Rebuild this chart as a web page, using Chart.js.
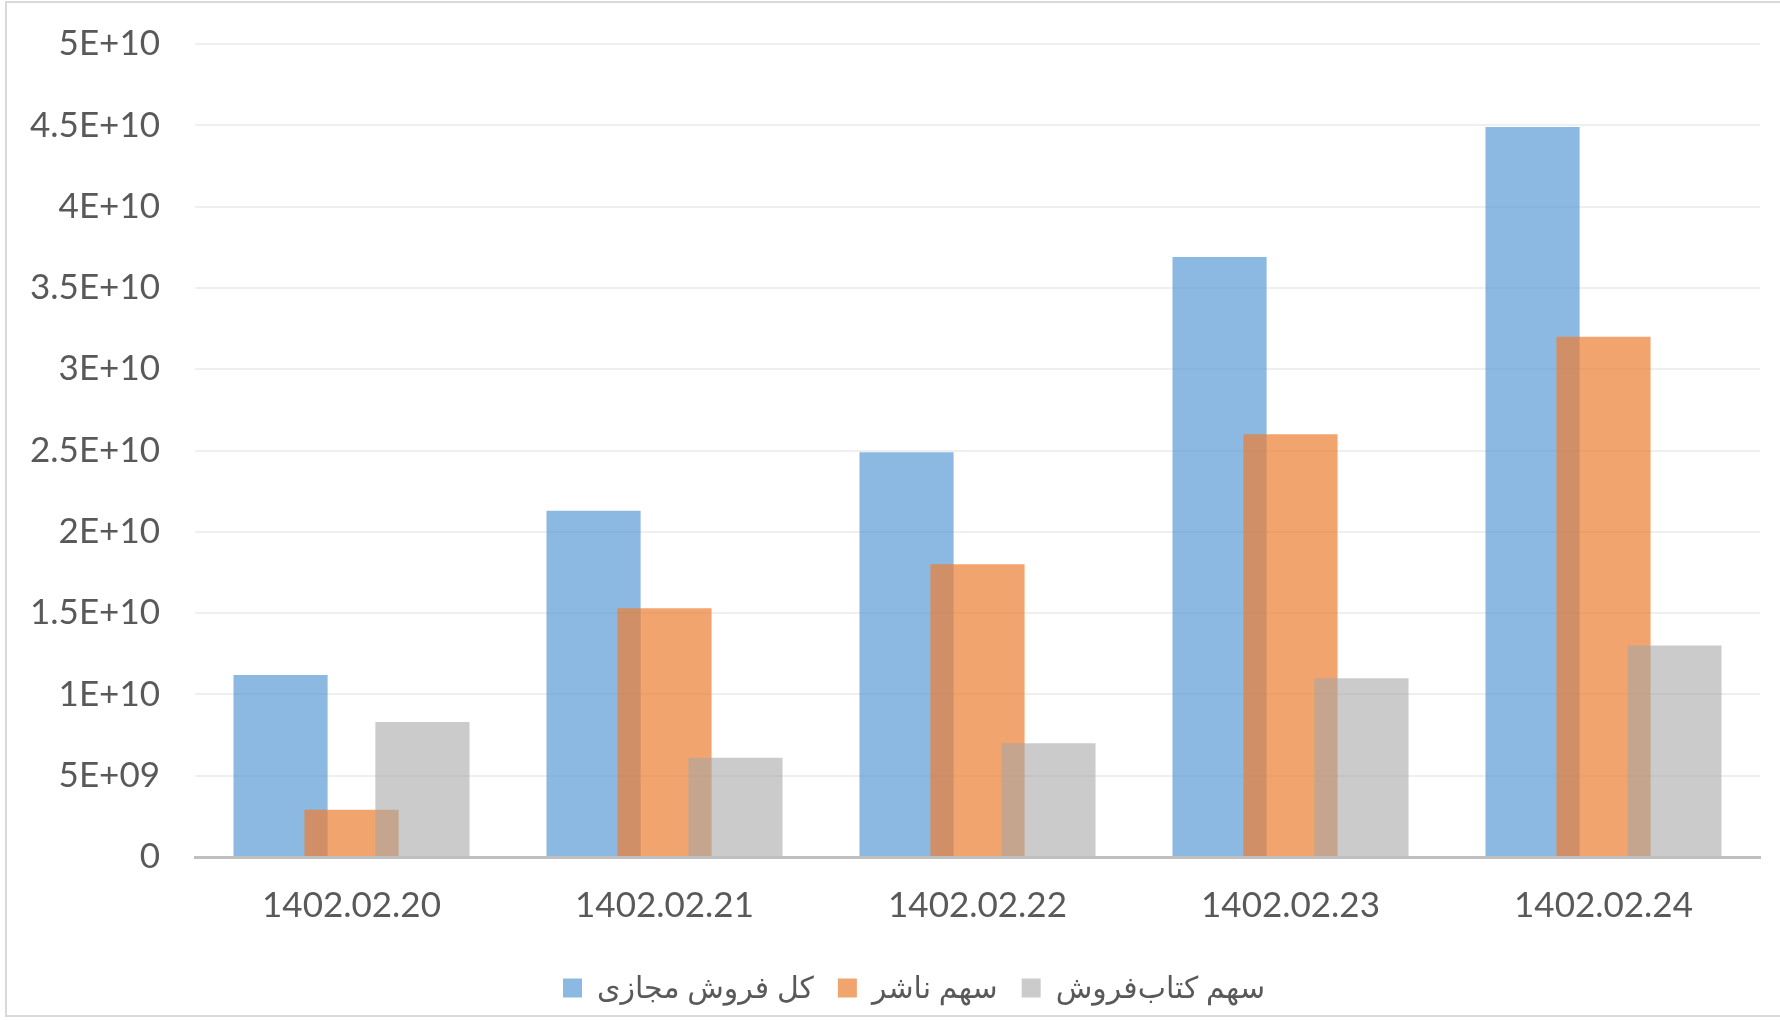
<!DOCTYPE html>
<html>
<head>
<meta charset="utf-8">
<script src="https://cdn.jsdelivr.net/npm/chart.js@4/dist/chart.umd.min.js"></script>
<style>
  html, body { margin: 0; padding: 0; background: #ffffff; overflow: hidden; }
  #frame { position: absolute; left: 5px; top: 1px; width: 1800px; height: 1016px; border: 2px solid #D9D9D9; box-sizing: border-box; }
  #c { position: absolute; left: 0; top: 0; }
</style>
</head>
<body>
<div id="frame"></div>
<canvas id="c" width="1780" height="1020"></canvas>
<script>
const categories = ['1402.02.20', '1402.02.21', '1402.02.22', '1402.02.23', '1402.02.24'];
const seriesNames = ['کل فروش مجازی', 'سهم ناشر', 'سهم کتاب‌فروش'];
const totalSales = [1.12e10, 2.13e10, 2.49e10, 3.69e10, 4.49e10];
const publisherShare = [2.9e9, 1.53e10, 1.80e10, 2.60e10, 3.20e10];
const bookstoreShare = [8.3e9, 6.1e9, 7.0e9, 1.10e10, 1.30e10];
const yMin = 0;
const yMax = 5e10;
const yStep = 5e9;

function excelSci(v) {
  if (Math.abs(v) < 1) return '0';
  const e = Math.floor(Math.log10(Math.abs(v)) + 1e-9);
  let m = Math.round(v / Math.pow(10, e) * 100) / 100;
  return m + 'E' + (e >= 0 ? '+' : '-') + String(Math.abs(e)).padStart(2, '0');
}

const FONT = 'Lato, "DejaVu Sans", sans-serif';

// draw datasets in index order so later series overlap earlier ones (Excel-like)
const drawInIndexOrder = {
  id: 'drawInIndexOrder',
  beforeDatasetsDraw(chart) {
    const n = chart.data.datasets.length;
    for (let i = 0; i < n; i++) {
      const meta = chart.getDatasetMeta(i);
      if (meta.visible !== false && !meta.hidden) meta.controller.draw();
    }
    return false;
  }
};

new Chart(document.getElementById('c'), {
  type: 'bar',
  data: {
    labels: categories,
    datasets: [
      { label: seriesNames[0], data: totalSales, backgroundColor: 'rgba(91,155,213,0.70)', yAxisID: 'y' },
      { label: seriesNames[1], data: publisherShare, backgroundColor: 'rgba(237,125,49,0.70)', yAxisID: 'y' },
      { label: seriesNames[2], data: bookstoreShare, backgroundColor: 'rgba(165,165,165,0.58)', yAxisID: 'y' }
    ]
  },
  plugins: [drawInIndexOrder],
  options: {
    responsive: false,
    animation: false,
    devicePixelRatio: 1,
    datasets: { bar: { categoryPercentage: 0.68, barPercentage: 1.327 } },
    layout: { padding: { left: 0, right: -48, top: 44, bottom: 7 } },
    plugins: {
      tooltip: { enabled: false },
      legend: {
        position: 'bottom',
        labels: {
          boxWidth: 19,
          boxHeight: 19,
          padding: 24,
          color: '#595959',
          font: { family: FONT, size: 30, lineHeight: 1.0 }
        }
      }
    },
    scales: {
      x: {
        grid: { display: false, drawTicks: false },
        border: { display: true, color: '#BFBFBF', width: 3 },
        ticks: { color: '#595959', padding: 28, font: { family: FONT, size: 35 } },
        afterFit(scale) { scale.height = 92; }
      },
      y: {
        min: yMin,
        max: yMax,
        grid: { color: '#EFEFEF', lineWidth: 2, drawTicks: false },
        border: { display: false },
        ticks: {
          stepSize: yStep,
          color: '#595959',
          padding: 35,
          font: { family: FONT, size: 35 },
          callback: (v) => excelSci(v)
        },
        afterFit(scale) { scale.width = 195; scale.paddingTop = 0; scale.paddingBottom = 0; }
      },
      yRight: {
        position: 'right',
        grid: { display: false, drawTicks: false },
        border: { display: false },
        ticks: { display: false },
        afterFit(scale) { scale.width = 68; scale.paddingTop = 0; scale.paddingBottom = 0; }
      }
    }
  }
});
</script>
</body>
</html>
